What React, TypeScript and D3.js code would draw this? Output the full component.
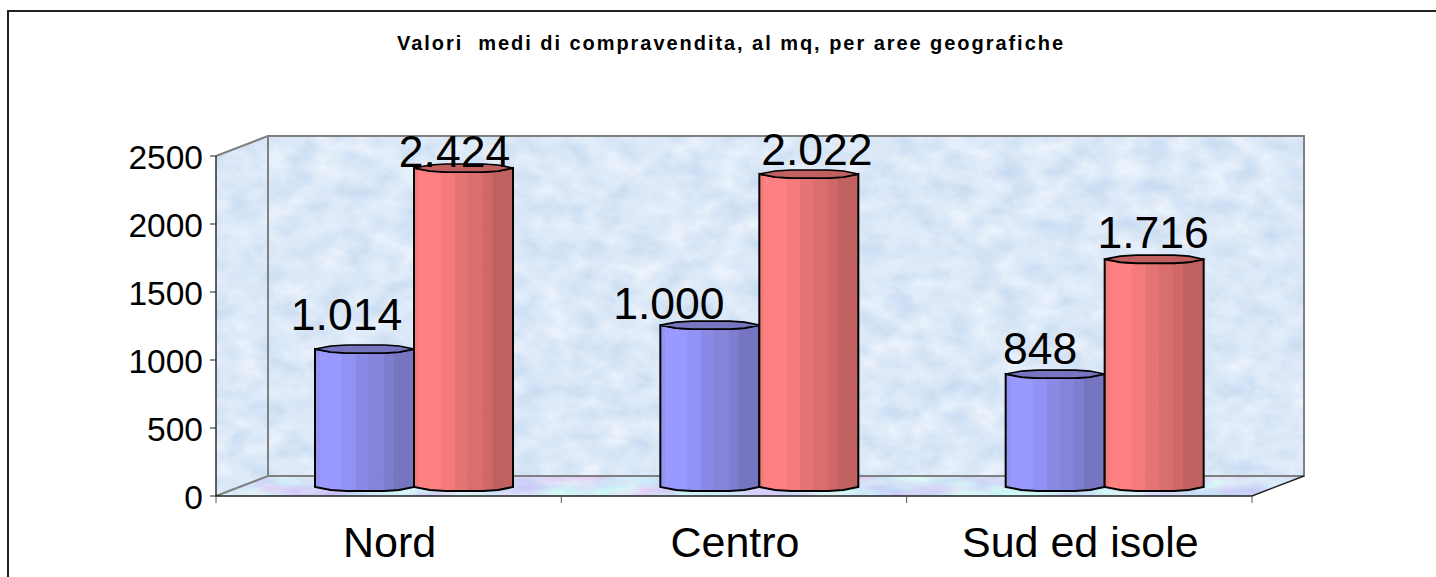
import React from "react";
import * as d3 from "d3";

const categories = ["Nord", "Centro", "Sud ed isole"];
const seriesNames = ["a", "b"];
const blueHeights = [1029, 1205, 845];
const redHeights = [2360, 2316, 1690];
const blueLabels = ["1.014", "1.000", "848"];
const redLabels = ["2.424", "2.022", "1.716"];
const yTicks = [0, 500, 1000, 1500, 2000, 2500];
const title = "Valori  medi di compravendita, al mq, per aree geografiche";

const blueStrips = ["#9393f2", "#9999ff", "#9292f4", "#8a8ae6", "#8484db", "#7e7ed0", "#7575c0"];
const redStrips = ["#f67a7a", "#ff8080", "#f57b7b", "#e67474", "#da6e6e", "#d06868", "#c06060"];
const stripStops = [0, 0.05, 0.27, 0.41, 0.54, 0.69, 0.79, 1];
const blueLabelShift = [[-18, -19], [-41, -6], [-15, -10]];
const redLabelShift = [[-9, -1], [8, -9], [-1, -11]];

const W = 1436, H = 577;
const X0 = 216, X1 = 1252, DX = 52, DY = 20;
const Y0 = 496, Y1 = 156;
const BASE_LIFT = 7;

const x = d3.scaleBand<string>().domain(categories).range([X0, X1]);
const x1 = d3.scaleBand<string>().domain(seriesNames).range([99, 297]);
const y = d3.scaleLinear().domain([0, 2500]).range([Y0, Y1]);
const line = d3.line();

function Bar({ cx, w, v, strips }: { cx: number; w: number; v: number; strips: string[] }) {
  const top = y(v) - BASE_LIFT;
  const bottom = y(0) - BASE_LIFT - 2;
  const at = (f: number) => cx + w * f;
  const capF = [0, 0.16, 0.32, 0.7, 0.85, 1];
  const capUp = [0, -3, -4, -4, -3, 0];
  const capDown = [0, 3, 4, 4, 3, 0];
  const lower: [number, number][] = capF.map((f, i) => [at(f), top + capDown[i]]);
  const upper: [number, number][] = capF.map((f, i) => [at(f), top + capUp[i]]);
  const base: [number, number][] = capF.map((f, i) => [at(f), bottom + capDown[i]]);
  const side = [[at(0), top], ...lower.slice(1, -1), [at(1), top], [at(1), bottom], ...base.slice(1, -1).reverse(), [at(0), bottom]] as [number, number][];
  const id = "clip" + Math.round(cx);
  return (
    <g>
      <clipPath id={id}><path d={line(side)! + "Z"} /></clipPath>
      <g clipPath={`url(#${id})`}>
        {strips.map((c, i) => (
          <rect key={i} x={at(stripStops[i])} width={w * (stripStops[i + 1] - stripStops[i]) + 0.5} y={top - 6} height={bottom - top + 14} fill={c} />
        ))}
      </g>
      <path d={line(side)! + "Z"} fill="none" stroke="#000" strokeWidth={2} />
      <path d={line([...upper, ...lower.slice().reverse()])! + "Z"} fill={strips[6]} stroke="#000" strokeWidth={1.6} />
    </g>
  );
}

export default function App() {
  const back = [[X0 + DX, Y1 - DY], [X1 + DX, Y1 - DY], [X1 + DX, Y0 - DY], [X0 + DX, Y0 - DY]] as [number, number][];
  const left = [[X0, Y1], [X0 + DX, Y1 - DY], [X0 + DX, Y0 - DY], [X0, Y0]] as [number, number][];
  const floor = [[X0, Y0], [X0 + DX, Y0 - DY], [X1 + DX, Y0 - DY], [X1, Y0]] as [number, number][];
  const band = x.bandwidth();
  const w = x1.bandwidth();
  const ff = "'Liberation Sans', Arial, sans-serif";
  return (
    <svg width={W} height={H} style={{ position: "absolute", left: 0, top: 0, display: "block" }} fontFamily={ff}>
      <defs>
        <filter id="marble" x="0" y="0" width="100%" height="100%" colorInterpolationFilters="sRGB">
          <feTurbulence type="fractalNoise" baseFrequency="0.035 0.05" numOctaves={5} seed={7} />
          <feColorMatrix type="matrix" values="0.2 0 0 0 0.76  0.13 0 0 0 0.845  0.06 0 0 0 0.94  0 0 0 0 1" />
        </filter>
        <filter id="marbleFloor" x="0" y="0" width="100%" height="100%" colorInterpolationFilters="sRGB">
          <feTurbulence type="fractalNoise" baseFrequency="0.02 0.07" numOctaves={3} seed={12} />
          <feColorMatrix type="matrix" values="0.2 0 0 0 0.73  0 -0.35 0 0 1.06  0 0 0 0 0.97  0 0 0 0 1" />
        </filter>
        <clipPath id="backClip"><path d={line(back)! + "Z"} /></clipPath>
        <clipPath id="leftClip"><path d={line(left)! + "Z"} /></clipPath>
        <clipPath id="floorClip"><path d={line(floor)! + "Z"} /></clipPath>
      </defs>
      <rect width={W} height={H} fill="#fff" />
      <path d="M8 577V11H1436" fill="none" stroke="#222" strokeWidth={2} />
      <text x={730} y={50} textAnchor="middle" fontSize={20} fontWeight={700} textLength={666} style={{ whiteSpace: "pre" }}>{title}</text>

      <g clipPath="url(#backClip)"><rect x={X0 + DX} y={Y1 - DY} width={X1 - X0} height={Y0 - Y1} filter="url(#marble)" /></g>
      <g clipPath="url(#leftClip)"><rect x={X0} y={Y1 - DY} width={DX} height={Y0 - Y1 + DY} filter="url(#marble)" /></g>
      <g clipPath="url(#floorClip)"><rect x={X0} y={Y0 - DY} width={X1 - X0 + DX} height={DY} filter="url(#marbleFloor)" /></g>

      <path d={line(back)! + "Z"} fill="none" stroke="#808080" strokeWidth={2} />
      <path d={line([[X0, Y1], [X0 + DX, Y1 - DY]])!} fill="none" stroke="#808080" strokeWidth={2} />
      <path d={line([[X0, Y0], [X0 + DX, Y0 - DY]])!} fill="none" stroke="#808080" strokeWidth={2} />

      <path d={line([[X0, Y1], [X0, Y0], [X1, Y0], [X1 + DX, Y0 - DY]])!} fill="none" stroke="#222" strokeWidth={1.4} />
      {yTicks.map((t) => (
        <g key={t}>
          <line x1={X0 - 6} x2={X0} y1={y(t)} y2={y(t)} stroke="#222" />
          <text x={203} y={y(t) + 12.5} textAnchor="end" fontSize={33.5}>{t}</text>
        </g>
      ))}
      {[...categories.map((c) => x(c)!), X1].map((px, i) => (
        <line key={i} x1={px} x2={px} y1={Y0} y2={Y0 + 7} stroke="#555" />
      ))}

      {categories.map((c, i) => {
        const bx = x(c)! + x1("a")!;
        const rx = x(c)! + x1("b")!;
        return (
          <g key={c}>
            <Bar cx={bx} w={w} v={blueHeights[i]} strips={blueStrips} />
            <Bar cx={rx} w={w} v={redHeights[i]} strips={redStrips} />
            <text x={x(c)! + band / 2 + 1} y={557} textAnchor="middle" fontSize={43}>{c}</text>
            <text x={bx + w / 2 + blueLabelShift[i][0]} y={y(blueHeights[i]) - BASE_LIFT + blueLabelShift[i][1]} textAnchor="middle" fontSize={44.5}>{blueLabels[i]}</text>
            <text x={rx + w / 2 + redLabelShift[i][0]} y={y(redHeights[i]) - BASE_LIFT + redLabelShift[i][1]} textAnchor="middle" fontSize={44.5}>{redLabels[i]}</text>
          </g>
        );
      })}
    </svg>
  );
}
